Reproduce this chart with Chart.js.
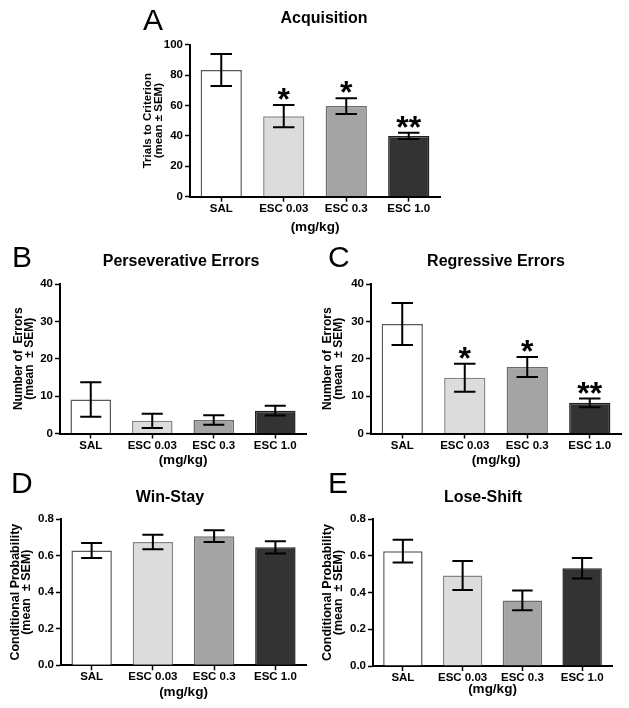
<!DOCTYPE html>
<html>
<head>
<meta charset="utf-8">
<script src="https://cdn.jsdelivr.net/npm/chart.js@4.4.1/dist/chart.umd.min.js"></script>
<style>
html, body { margin: 0; padding: 0; background: #ffffff; }
body { width: 629px; height: 708px; position: relative; overflow: hidden; font-family: "Liberation Sans", Arial, Helvetica, sans-serif; }
canvas { position: absolute; }
.lbl { position: absolute; white-space: nowrap; color: #000; line-height: 1; }
.letter { font-size: 30px; font-weight: normal; }
.title { font-size: 16px; font-weight: bold; transform: translate(-50%, -50%); }
</style>
</head>
<body>
<script>
// ---------------- data ----------------
const categories = ['SAL', 'ESC 0.03', 'ESC 0.3', 'ESC 1.0'];
const xAxisTitle = '(mg/kg)';

const acquisitionMean  = [83.4, 53.0, 59.6, 40.0];
const acquisitionSem   = [10.5, 7.3, 5.2, 2.0];
const acquisitionStars = ['', '*', '*', '**'];
const acquisitionTicks = [0, 100, 20];          // min, max, step

const perseverativeMean  = [9.1, 3.4, 3.6, 6.1];
const perseverativeSem   = [4.6, 1.9, 1.25, 1.3];
const perseverativeStars = ['', '', '', ''];

const regressiveMean  = [29.3, 14.9, 17.8, 8.2];
const regressiveSem   = [5.6, 3.75, 2.7, 1.15];
const regressiveStars = ['', '*', '*', '**'];
const errorTicks = [0, 40, 10];

const winStayMean  = [0.628, 0.674, 0.706, 0.645];
const winStaySem   = [0.041, 0.040, 0.032, 0.033];
const winStayStars = ['', '', '', ''];

const loseShiftMean  = [0.625, 0.493, 0.357, 0.532];
const loseShiftSem   = [0.062, 0.079, 0.054, 0.056];
const loseShiftStars = ['', '', '', ''];
const probTicks = [0, 0.8, 0.2];

// ---------------- styles / layout ----------------
const FONT = '"Liberation Sans", Arial, Helvetica, sans-serif';
const barFill   = ['#ffffff', '#dcdcdc', '#a4a4a4', '#333333'];
const barBorder = ['#5a5a5a', '#858585', '#6c6c6c', '#222222'];

const panels = [
  { letter: 'A', title: 'Acquisition', mean: acquisitionMean, sem: acquisitionSem, stars: acquisitionStars,
    ticks: acquisitionTicks, decimals: 0, yTitle: ['Trials to Criterion', '(mean \u00B1 SEM)'], yTitleSize: 11.5,
    canvas: { x: 100, y: 0, w: 360, h: 240 }, plot: { x0: 190, x1: 440, y0: 44.7, y1: 196.7 },
    yTitleX: 148, xTitleY: 227, titleXY: [324, 18], letterXY: [143, 9] },
  { letter: 'B', title: 'Perseverative Errors', mean: perseverativeMean, sem: perseverativeSem, stars: perseverativeStars,
    ticks: errorTicks, decimals: 0, yTitle: ['Number of  Errors', '(mean  \u00B1 SEM)'], yTitleSize: 12,
    canvas: { x: 0, y: 238, w: 314, h: 232 }, plot: { x0: 60, x1: 306, y0: 284, y1: 433.5 },
    yTitleX: 19, xTitleY: 460, titleXY: [181, 261], letterXY: [12, 246] },
  { letter: 'C', title: 'Regressive Errors', mean: regressiveMean, sem: regressiveSem, stars: regressiveStars,
    ticks: errorTicks, decimals: 0, yTitle: ['Number of  Errors', '(mean  \u00B1 SEM)'], yTitleSize: 12,
    canvas: { x: 314, y: 238, w: 315, h: 232 }, plot: { x0: 371, x1: 621, y0: 284, y1: 433.5 },
    yTitleX: 328, xTitleY: 460, titleXY: [496, 261], letterXY: [328, 246] },
  { letter: 'D', title: 'Win-Stay', mean: winStayMean, sem: winStaySem, stars: winStayStars,
    ticks: probTicks, decimals: 1, yTitle: ['Conditional Probability', '(mean  \u00B1 SEM)'], yTitleSize: 12.5,
    canvas: { x: 0, y: 468, w: 314, h: 240 }, plot: { x0: 61, x1: 306, y0: 519, y1: 665.3 },
    yTitleX: 16, xTitleY: 692, titleXY: [170, 497], letterXY: [11, 472] },
  { letter: 'E', title: 'Lose-Shift', mean: loseShiftMean, sem: loseShiftSem, stars: loseShiftStars,
    ticks: probTicks, decimals: 1, yTitle: ['Conditional Probability', '(mean  \u00B1 SEM)'], yTitleSize: 12.5,
    canvas: { x: 314, y: 468, w: 315, h: 240 }, plot: { x0: 373, x1: 612, y0: 519, y1: 666 },
    yTitleX: 327.5, xTitleY: 689, titleXY: [483, 497], letterXY: [328, 472] }
];

function addLabel(text, cls, x, y) {
  const d = document.createElement('div');
  d.className = 'lbl ' + cls;
  d.textContent = text;
  d.style.left = x + 'px';
  d.style.top = y + 'px';
  document.body.appendChild(d);
}

function makeErrorPlugin(p) {
  return {
    id: 'errbars' + p.letter,
    afterDatasetsDraw(chart) {
      const ctx = chart.ctx;
      const ys = chart.scales.y;
      const meta = chart.getDatasetMeta(0);
      const vals = chart.data.datasets[0].data;
      ctx.save();
      ctx.strokeStyle = '#000';
      ctx.lineWidth = 2;
      ctx.lineCap = 'butt';
      meta.data.forEach((el, i) => {
        const top = ys.getPixelForValue(vals[i] + p.sem[i]);
        const bot = ys.getPixelForValue(vals[i] - p.sem[i]);
        const half = el.width * 0.26;
        ctx.beginPath();
        ctx.moveTo(el.x, top); ctx.lineTo(el.x, bot);
        ctx.moveTo(el.x - half, top); ctx.lineTo(el.x + half, top);
        ctx.moveTo(el.x - half, bot); ctx.lineTo(el.x + half, bot);
        ctx.stroke();
        const s = p.stars[i];
        if (s) {
          ctx.font = 'bold 32px ' + FONT;
          ctx.fillStyle = '#000';
          ctx.textAlign = 'center';
          ctx.textBaseline = 'alphabetic';
          const m = ctx.measureText(s);
          const asc = m.actualBoundingBoxAscent, desc = m.actualBoundingBoxDescent;
          const centre = top - 11;
          const base = centre + (asc - desc) / 2;
          ctx.fillText(s, el.x, base);
        }
      });
      ctx.restore();
    }
  };
}

panels.forEach(p => {
  const c = p.canvas, a = p.plot;
  const yLH = 11;                 // y title line height
  const xTitleSize = 13.5, xLH = xTitleSize * 1.2;
  const pl = p.yTitleX - c.x - yLH / 2;
  const wy = a.x0 - c.x - pl;
  const pr = c.x + c.w - a.x1;
  const pt = a.y0 - c.y;
  const hx = p.xTitleY - a.y1 + xLH / 2;
  const pb = c.y + c.h - a.y1 - hx;

  const cv = document.createElement('canvas');
  cv.width = c.w; cv.height = c.h;
  cv.style.left = c.x + 'px'; cv.style.top = c.y + 'px';
  cv.style.width = c.w + 'px'; cv.style.height = c.h + 'px';
  document.body.appendChild(cv);

  new Chart(cv, {
    type: 'bar',
    data: {
      labels: categories,
      datasets: [{
        data: p.mean,
        backgroundColor: barFill,
        borderColor: barBorder,
        borderWidth: 1.5,
        barPercentage: 0.66,
        categoryPercentage: 1.0
      }]
    },
    options: {
      responsive: false,
      devicePixelRatio: 1,
      animation: false,
      events: [],
      layout: { padding: { left: pl, right: pr, top: pt, bottom: pb } },
      plugins: { legend: { display: false }, tooltip: { enabled: false }, title: { display: false } },
      scales: {
        x: {
          offset: true,
          afterFit: s => { s.height = hx; },
          grid: { display: true, offset: false, drawOnChartArea: false, drawTicks: true, tickLength: 5, tickColor: '#000', tickWidth: 1.5 },
          border: { display: true, color: '#000', width: 2 },
          ticks: { color: '#000', padding: 0, font: { family: FONT, size: 11.5, weight: 'bold' }, maxRotation: 0, autoSkip: false },
          title: { display: true, text: xAxisTitle, color: '#000', padding: 0, font: { family: FONT, size: xTitleSize, weight: 'bold', lineHeight: 1.2 } }
        },
        y: {
          min: p.ticks[0], max: p.ticks[1],
          afterFit: s => { s.width = wy; },
          grid: { display: true, drawOnChartArea: false, drawTicks: true, tickLength: 5, tickColor: '#000', tickWidth: 1.5 },
          border: { display: true, color: '#000', width: 2 },
          ticks: { stepSize: p.ticks[2], color: '#000', padding: 2, font: { family: FONT, size: 11.5, weight: 'bold' },
                   callback: v => Number(v).toFixed(p.decimals) },
          title: { display: true, text: p.yTitle, color: '#000', padding: 0, font: { family: FONT, size: p.yTitleSize, weight: 'bold', lineHeight: yLH / p.yTitleSize } }
        }
      }
    },
    plugins: [makeErrorPlugin(p)]
  });

  addLabel(p.letter, 'letter', p.letterXY[0], p.letterXY[1] - 3.9);
  addLabel(p.title, 'title', p.titleXY[0], p.titleXY[1]);
});
</script>
</body>
</html>
